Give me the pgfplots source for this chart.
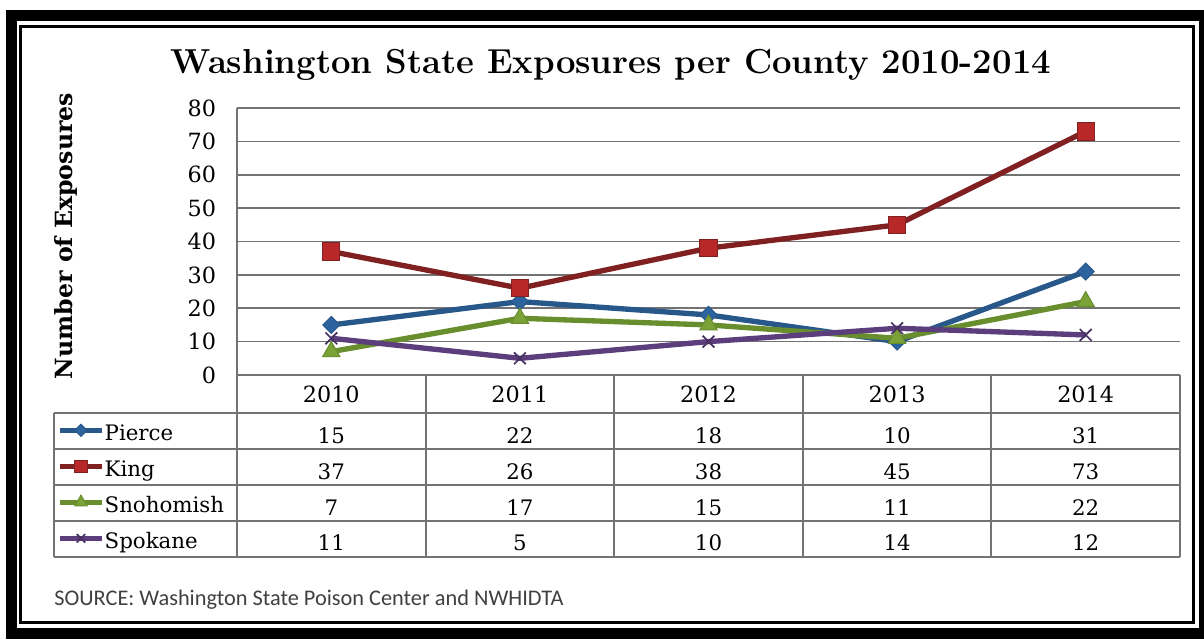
\documentclass[border=0pt]{standalone}
\usepackage{fontspec}
\usepackage{pgfplots}
\pgfplotsset{compat=1.18}
\newfontfamily\carlito{Carlito}
\newfontfamily\dvs{DejaVu Serif}
\definecolor{piercel}{RGB}{40,88,138}
\definecolor{piercem}{RGB}{45,100,160}
\definecolor{kingl}{RGB}{128,32,32}
\definecolor{kingm}{RGB}{185,40,40}
\definecolor{snol}{RGB}{104,142,45}
\definecolor{snom}{RGB}{122,162,55}
\definecolor{spol}{RGB}{92,62,125}
\definecolor{spom}{RGB}{70,48,95}
\definecolor{gridg}{RGB}{115,115,115}
\begin{document}
\begin{tikzpicture}
\begin{axis}[
  at={(142.2pt,-225pt)}, anchor=south west,
  scale only axis, width=565.8pt, height=160.2pt,
  xmin=0.5, xmax=5.5, ymin=0, ymax=80,
  xtick={1,2,3,4,5}, xticklabels={2010,2011,2012,2013,2014},
  ytick={0,10,...,80},
  /pgf/number format/assume math mode=true,
  ymajorgrids, grid style={gridg, line width=1pt},
  axis lines*=left,
  axis line style={gridg, line width=1.2pt, -},
  major tick length=0pt,
  tick label style={font=\dvs\fontsize{13.4}{16}\selectfont},
  yticklabel style={xshift=-9pt},
  xticklabel style={anchor=base, yshift=-16.8pt},
  legend style={at={(-0.1909,-0.1386)}, anchor=north west, draw=none, fill=none,
    inner sep=0pt, row sep=0pt, column sep=0pt,
    nodes={inner sep=0pt, text height=17pt, text depth=4.6pt, font=\dvs\fontsize{12.8}{16}\selectfont}},
  legend cell align=left,
  legend image code/.code={\draw[mark repeat=2,mark phase=2,#1,/tikz/every mark/.append style={scale=0.72}] plot coordinates {(0pt,0pt) (12.6pt,0pt) (25.2pt,0pt)};},
  clip=false,
]
\addplot[piercel, line width=3.2pt, mark=square*, mark size=3.6pt,
  mark options={solid, rotate=45, line width=0.6pt, draw=piercel, fill=piercem}]
  coordinates {(1,15) (2,22) (3,18) (4,10) (5,31)};
\addlegendentry{Pierce}
\addplot[kingl, line width=3.2pt, mark=square*, mark size=5.2pt,
  mark options={solid, line width=0.6pt, draw=kingl, fill=kingm}]
  coordinates {(1,37) (2,26) (3,38) (4,45) (5,73)};
\addlegendentry{King}
\addplot[snol, line width=3.2pt, mark=triangle*, mark size=6pt,
  mark options={solid, line width=0.6pt, draw=snol, fill=snom}]
  coordinates {(1,7) (2,17) (3,15) (4,11) (5,22)};
\addlegendentry{Snohomish}
\addplot[spol, line width=3.2pt, mark=x, mark size=5pt,
  mark options={solid, line width=1pt, draw=spom}]
  coordinates {(1,11) (2,5) (3,10) (4,14) (5,12)};
\addlegendentry{Spokane}
\end{axis}
\begin{scope}[x=0.6pt, y=-0.6pt]
  % frame
  \draw[line width=6.6pt] (11.5,15.5) rectangle (1204.5,633);
  \draw[line width=1.8pt] (20.5,26.5) rectangle (1193.5,622.5);
  % title
  \node[anchor=base, font=\fontsize{20.8}{25}\selectfont\bfseries] at (611,74)
    {Washington State Exposures per County 2010-2014};
  % y label
  \node[rotate=90, anchor=base, inner sep=0pt, font=\dvs\bfseries\fontsize{14.2}{17}\selectfont] at (72,236) {Number of Exposures};
  % table lines
  \begin{scope}[gridg, line width=1.2pt]
    \draw (54,413) -- (1180,413);
    \draw (54,449) -- (1180,449);
    \draw (54,485) -- (1180,485);
    \draw (54,521) -- (1180,521);
    \draw (54,557) -- (1180,557);
    \draw (54,413) -- (54,557);
    \draw (237,375) -- (237,557);
    \draw (425.6,375) -- (425.6,557);
    \draw (614.2,375) -- (614.2,557);
    \draw (802.8,375) -- (802.8,557);
    \draw (991.4,375) -- (991.4,557);
    \draw (1180,375) -- (1180,557);
  \end{scope}
  % table values
  \begin{scope}[every node/.style={anchor=base, font=\dvs\fontsize{12.8}{16}\selectfont}]
    \node at (331.3,443) {15}; \node at (519.9,443) {22}; \node at (708.5,443) {18}; \node at (897.1,443) {10}; \node at (1085.7,443) {31};
    \node at (331.3,479) {37}; \node at (519.9,479) {26}; \node at (708.5,479) {38}; \node at (897.1,479) {45}; \node at (1085.7,479) {73};
    \node at (331.3,515) {7};  \node at (519.9,515) {17}; \node at (708.5,515) {15}; \node at (897.1,515) {11}; \node at (1085.7,515) {22};
    \node at (331.3,550) {11}; \node at (519.9,550) {5};  \node at (708.5,550) {10}; \node at (897.1,550) {14}; \node at (1085.7,550) {12};
  \end{scope}
  % source
  \node[anchor=base west, inner sep=0pt, font=\carlito\fontsize{13.4}{16}\selectfont, text=black!75] at (54,605)
    {SOURCE: Washington State Poison Center and NWHIDTA};
  \pgfresetboundingbox
  \path[use as bounding box] (0,0) rectangle (1204,639);
\end{scope}
\end{tikzpicture}
\end{document}
